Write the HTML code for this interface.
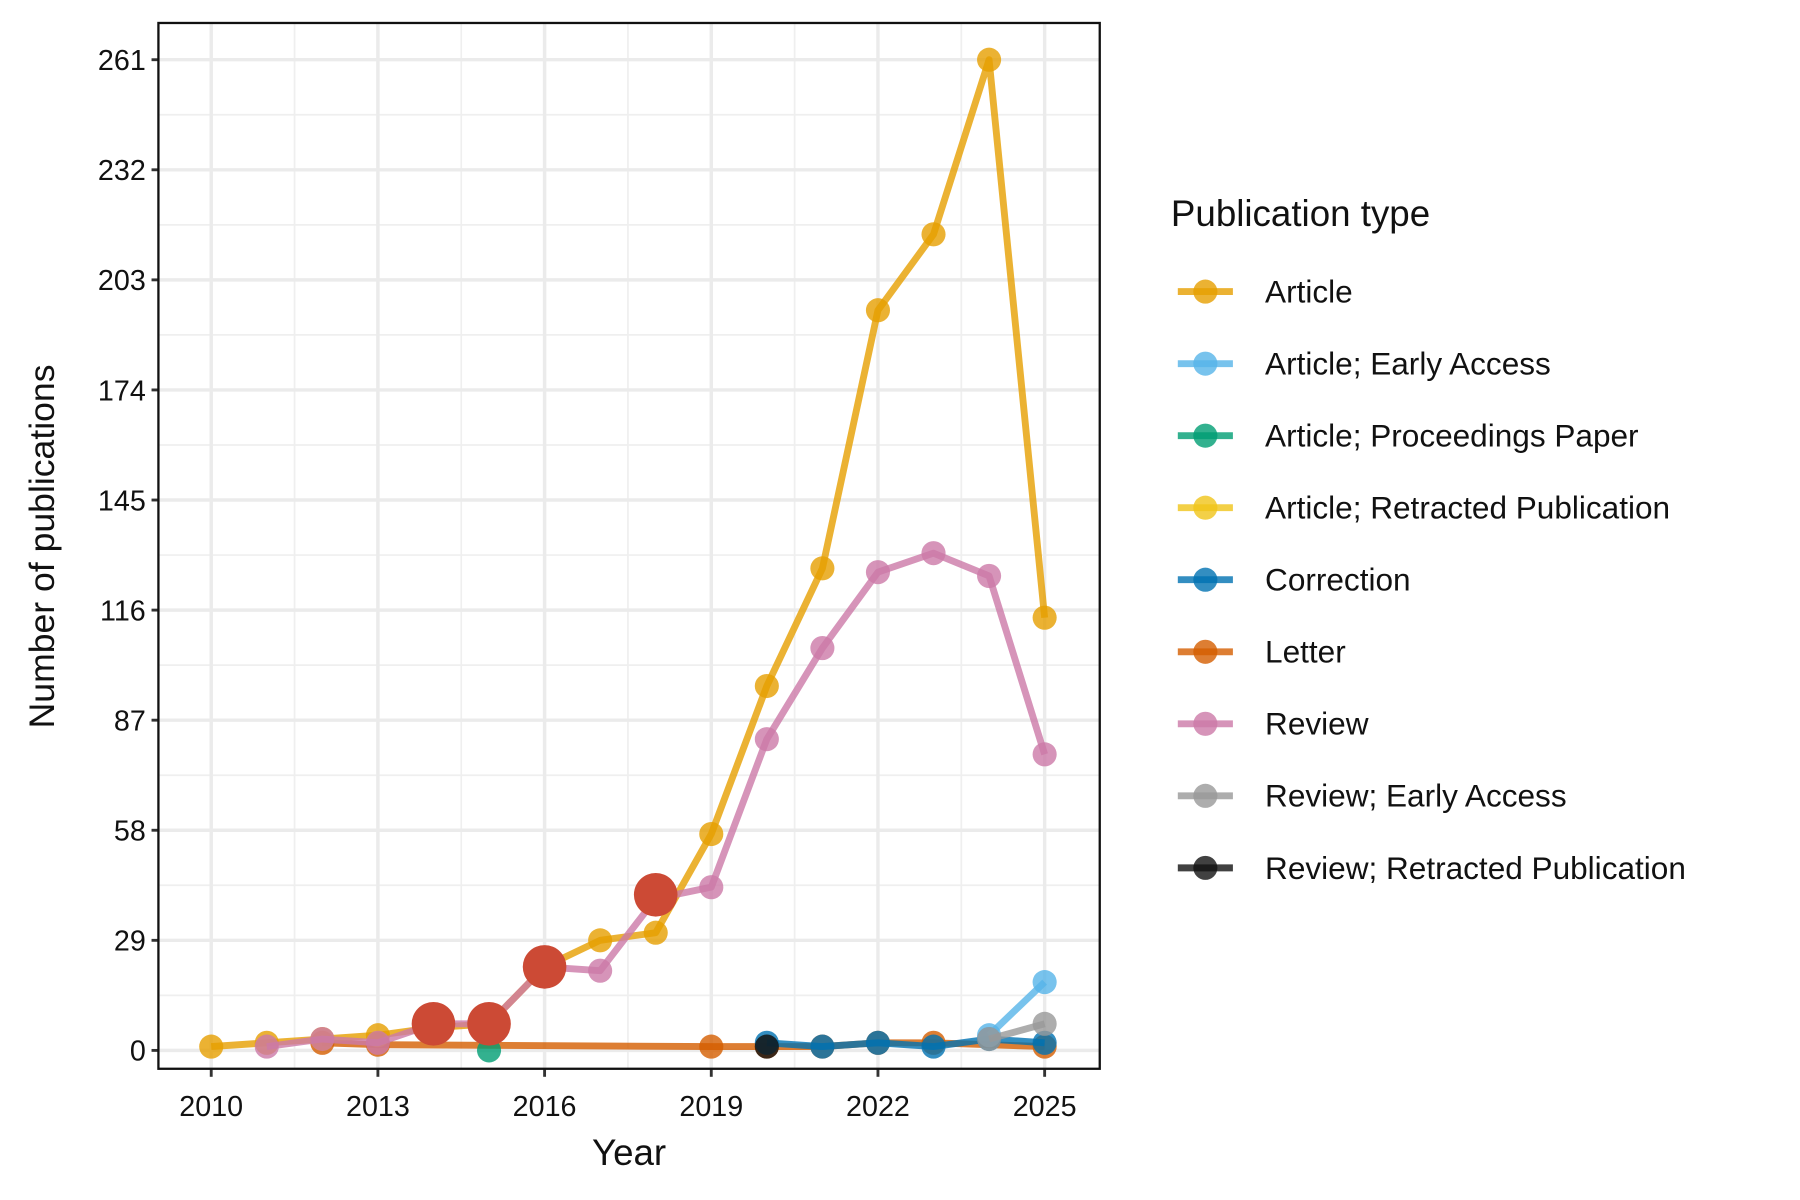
<!DOCTYPE html>
<html><head><meta charset="utf-8"><style>html,body{margin:0;padding:0;background:#fff}svg{display:block}text{font-family:"Liberation Sans",Arial,sans-serif}</style></head>
<body>
<svg id="chart" width="1800" height="1200" viewBox="0 0 1568 1045.3" xmlns="http://www.w3.org/2000/svg">
<rect width="1568" height="1046" fill="#fff"/>
<g id="grid"></g><g id="series"></g><g id="axes"></g><g id="legend"></g>
</svg>
<script>
const yTicks = [0,29,58,87,116,145,174,203,232,261];
const xTicks = [2010,2013,2016,2019,2022,2025];
const seriesNames = ["Article","Article; Early Access","Article; Proceedings Paper","Article; Retracted Publication","Correction","Letter","Review","Review; Early Access","Review; Retracted Publication"];
const seriesColors = ["#E69F00","#56B4E9","#009E73","#F0C419","#0072B2","#D55E00","#CC79A7","#999999","#111111"];
const articleYears = [2010,2011,2012,2013,2014,2015,2016,2017,2018,2019,2020,2021,2022,2023,2024,2025];
const articleVals = [1,2,3,4,6,7,22,29,31,57,96,127,195,215,261,114];
const earlyYears = [2024,2025];
const earlyVals = [4,18];
const procYears = [2015];
const procVals = [0];
const retrYears = [];
const retrVals = [];
const corrYears = [2020,2021,2022,2023,2024,2025];
const corrVals = [2,1,2,1,3,2];
const letterYears = [2012,2013,2019,2020,2021,2022,2023,2025];
const letterVals = [2,1.5,1,1,1,2,2,1];
const reviewYears = [2011,2012,2013,2014,2015,2016,2017,2018,2019,2020,2021,2022,2023,2024,2025];
const reviewVals = [1,3,2,7,7,22,21,40,43,82,106,126,131,125,78];
const revEarlyYears = [2024,2025];
const revEarlyVals = [3,7];
const revRetrYears = [2020];
const revRetrVals = [1];
const highlightYears = [2014,2015,2016,2018];
const highlightVals = [7,7,22,41];

const NS="http://www.w3.org/2000/svg";
const PL=138,PR=958,PT=20,PB=931;
function xs(v){return 184+(v-2010)*(910-184)/15;}
function ys(v){return 915-v*(915-52)/261;}
function mk(tag,attrs,parent){const e=document.createElementNS(NS,tag);for(const k in attrs)e.setAttribute(k,attrs[k]);parent.appendChild(e);return e;}
const grid=document.getElementById('grid'),ser=document.getElementById('series'),axes=document.getElementById('axes'),leg=document.getElementById('legend');
mk('rect',{x:PL,y:PT,width:PR-PL,height:PB-PT,fill:'#fff'},grid);
for(let i=0;i<yTicks.length-1;i++){const m=(yTicks[i]+yTicks[i+1])/2;const l=mk('line',{x1:PL,x2:PR,y1:ys(m),y2:ys(m),stroke:'#efefef','stroke-width':1.5},grid);

}
for(let i=0;i<xTicks.length-1;i++){const m=(xTicks[i]+xTicks[i+1])/2;const l=mk('line',{x1:xs(m),x2:xs(m),y1:PT,y2:PB,stroke:'#efefef','stroke-width':1.5},grid);

}
yTicks.forEach(t=>{const l=mk('line',{x1:PL,x2:PR,y1:ys(t),y2:ys(t),stroke:'#ebebeb','stroke-width':3},grid);


const tk=mk('line',{x1:PL-6,x2:PL,y1:ys(t),y2:ys(t),stroke:'#333','stroke-width':2.5},axes);


const tx=mk('text',{x:PL-11,y:ys(t)+9,'text-anchor':'end','font-size':25,fill:'#111'},axes);tx.textContent=t;

});
xTicks.forEach(t=>{const l=mk('line',{x1:xs(t),x2:xs(t),y1:PT,y2:PB,stroke:'#ebebeb','stroke-width':3},grid);


const tk=mk('line',{x1:xs(t),x2:xs(t),y1:PB,y2:PB+7,stroke:'#333','stroke-width':2.5},axes);


const tx=mk('text',{x:xs(t),y:PB+41,'text-anchor':'middle','font-size':25,fill:'#111'},axes);tx.textContent=t;

});
const border=mk('rect',{x:PL,y:PT,width:PR-PL,height:PB-PT,fill:'none',stroke:'#111','stroke-width':2},axes);


const xt=mk('text',{x:548,y:1015,'text-anchor':'middle','font-size':32,fill:'#111'},axes);xt.textContent='Year';


const yt=mk('text',{x:0,y:0,'text-anchor':'middle','font-size':31,fill:'#111',transform:'translate(47,476) rotate(-90)'},axes);yt.textContent='Number of publications';



const order=[[5,letterYears,letterVals],[2,procYears,procVals],[3,retrYears,retrVals],[4,corrYears,corrVals],[1,earlyYears,earlyVals],[7,revEarlyYears,revEarlyVals],[0,articleYears,articleVals],[6,reviewYears,reviewVals],[8,revRetrYears,revRetrVals]];
order.forEach(([ci,yrs,vals])=>{const c=seriesColors[ci];const g=mk('g',{},ser);


if(yrs.length>1){const p=mk('polyline',{points:yrs.map((y,i)=>xs(y)+','+ys(vals[i])).join(' '),fill:'none',stroke:c,'stroke-width':6,'stroke-opacity':0.8,'stroke-linejoin':'round'},g);

}
yrs.forEach((y,i)=>{const d=mk('circle',{cx:xs(y),cy:ys(vals[i]),r:10.5,fill:c,'fill-opacity':0.8},g);

});});
highlightYears.forEach((y,i)=>{const d=mk('circle',{cx:xs(y),cy:ys(highlightVals[i]),r:19,fill:'#CC4A35'},ser);

});

const lt=mk('text',{x:1020,y:197,'font-size':32,fill:'#111'},leg);lt.textContent='Publication type';


seriesNames.forEach((n,i)=>{const y=254+i*62.75;const g=mk('g',{},leg);


mk('line',{x1:1026,x2:1074,y1:y,y2:y,stroke:seriesColors[i],'stroke-width':6,'stroke-opacity':0.8},g);
mk('circle',{cx:1050,cy:y,r:10.5,fill:seriesColors[i],'fill-opacity':0.8},g);
const t=mk('text',{x:1102,y:y+9.5,'font-size':27.5,fill:'#111'},g);t.textContent=n;});
</script>
</body></html>
